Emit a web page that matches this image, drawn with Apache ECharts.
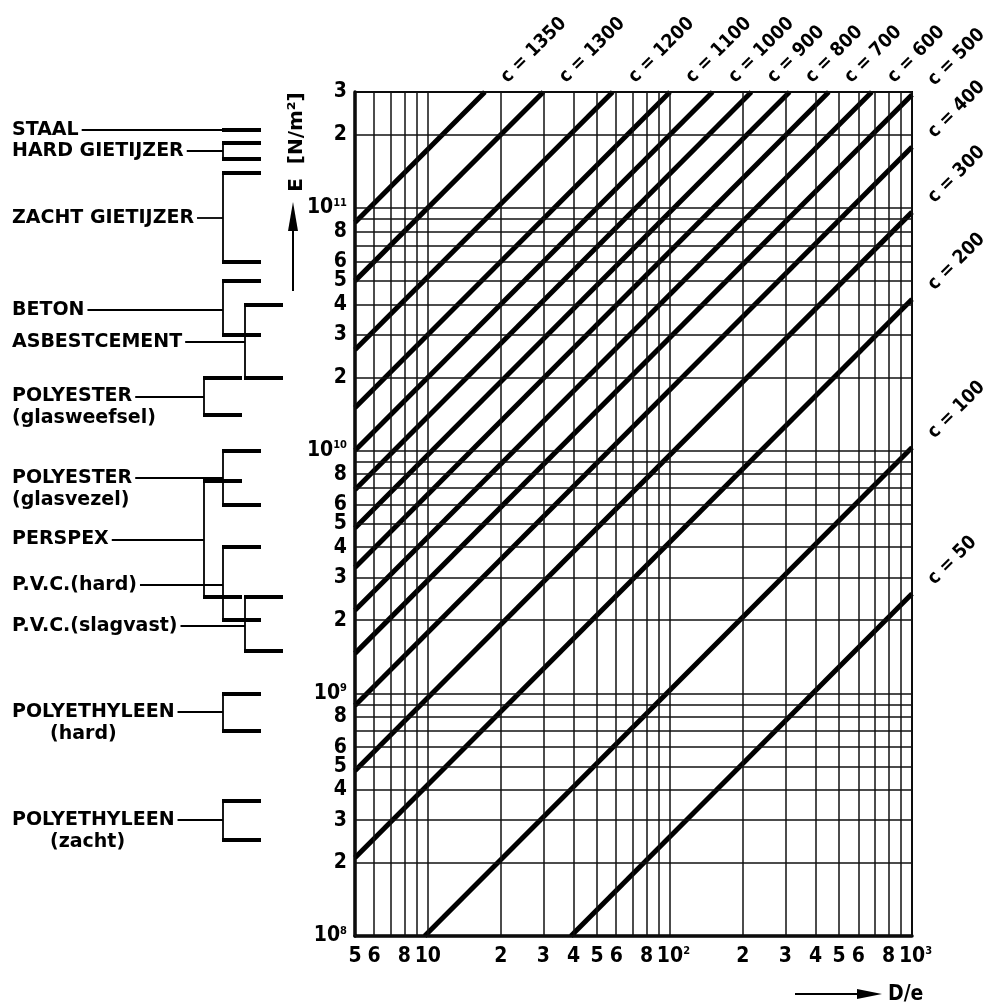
<!DOCTYPE html>
<html><head><meta charset="utf-8">
<script src="https://cdn.jsdelivr.net/npm/echarts@6/dist/echarts.min.js"></script>
<style>html,body{margin:0;padding:0;background:#fff}#c{width:987px;height:1008px}</style>
</head><body><div id="c"></div>
<script>
// ---------------- data ----------------
const cValues    = [1350, 1300, 1200, 1100, 1000, 900, 800, 700, 600, 500, 400, 300, 200, 100, 50];
const lineStartDe = [5, 5, 5, 5, 5, 5, 5, 5, 5, 5, 5, 5, 5, 9.7, 39];
const lineStartE  = [8.7e10, 5e10, 2.6e10, 1.5e10, 1e10, 6.9e9, 4.8e9, 3.3e9, 2.2e9, 1.46e9, 8.9e8, 4.8e8, 2.1e8, 1e8, 1e8];
const lineEndDe   = [17.2, 30, 58, 100, 150, 217, 312, 453, 682, 1000, 1000, 1000, 1000, 1000, 1000];
const lineEndE    = [3e11, 3e11, 3e11, 3e11, 3e11, 3e11, 3e11, 3e11, 3e11, 2.92e11, 1.78e11, 9.6e10, 4.2e10, 1.03e10, 2.57e9];

const xGridValues = [5,6,7,8,9,10,20,30,40,50,60,70,80,90,100,200,300,400,500,600,700,800,900,1000];
const xTickTexts  = ['5','6','','8','','10','2','3','4','5','6','','8','','{p|}10{s|2}','2','3','4','5','6','','8','','{p|}10{s|3}'];
const yGridValues = [1e8,2e8,3e8,4e8,5e8,6e8,7e8,8e8,9e8,1e9,2e9,3e9,4e9,5e9,6e9,7e9,8e9,9e9,
                     1e10,2e10,3e10,4e10,5e10,6e10,7e10,8e10,9e10,1e11,2e11,3e11];
const yTickTexts  = ['10{s|8}','2','3','4','5','6','','8','','10{s|9}','2','3','4','5','6','','8','',
                     '10{s|10}','2','3','4','5','6','','8','','10{s|11}','2','3'];

const materialNames  = ['STAAL','HARD GIETIJZER','ZACHT GIETIJZER','BETON','ASBESTCEMENT',
                        'POLYESTER\n(glasweefsel)','POLYESTER\n(glasvezel)','PERSPEX','P.V.C.(hard)',
                        'P.V.C.(slagvast)','POLYETHYLEEN\n(hard)','POLYETHYLEEN\n(zacht)'];
const materialLowE   = [2.1e11, 1.6e11, 6e10, 3e10, 2e10, 1.4e10, 6e9, 2.5e9, 2e9, 1.5e9, 7e8, 2.5e8];
const materialHighE  = [2.1e11, 1.85e11, 1.4e11, 5e10, 4e10, 2e10, 1e10, 7.5e9, 4e9, 2.5e9, 1e9, 3.6e8];
const materialLabelE = [2.1e11, 1.72e11, 9.1e10, 3.8e10, 2.8e10, 1.67e10, 7.7e9, 4.3e9, 2.8e9, 1.9e9, 8.4e8, 3e8];
const materialColumn = [1, 1, 1, 1, 2, 0, 1, 0, 1, 2, 1, 1];

// ---------------- layout / style ----------------
const TICK_FONT = '"DejaVu Sans Condensed", "Liberation Sans Narrow", "DejaVu Sans", sans-serif';
const TEXT_FONT = '"DejaVu Sans", sans-serif';
const MAT_SIZE = 19;
const COLUMN_X = [204, 223, 245];
const BAR_LEN = 38;
const TEXT_X = 12;

const measureCtx = document.createElement('canvas').getContext('2d');
function textWidth(s, size, fam, weight) { measureCtx.font = (weight || '') + ' ' + size + 'px ' + fam; return measureCtx.measureText(s).width; }

const supRich = {
  s: { fontSize: 11, fontFamily: TICK_FONT, fontWeight: 'bold', verticalAlign: 'top', color: '#000' },
  p: { width: 7 }
};

// grid lines + tick labels via markLine
const gridMarks = [];
xGridValues.forEach((v, i) => gridMarks.push({ xAxis: v, name: xTickTexts[i],
  label: { show: xTickTexts[i] !== '', position: 'start', distance: 10, align: 'center' } }));
yGridValues.forEach((v, i) => gridMarks.push({ yAxis: v, name: yTickTexts[i],
  label: { show: yTickTexts[i] !== '', position: 'start', distance: 8 } }));

const cLineSeries = cValues.map((c, i) => ({
  type: 'line', name: 'c = ' + c, xAxisIndex: 0, yAxisIndex: 0,
  data: [[lineStartDe[i], lineStartE[i]], [lineEndDe[i], lineEndE[i]]],
  symbol: 'none', silent: true, z: 4,
  lineStyle: { color: '#000', width: 5, cap: 'butt' }
}));

// brackets for materials
const thinSegs = [], thickSegs = [];
materialNames.forEach((name, i) => {
  const x = COLUMN_X[materialColumn[i]];
  const lo = materialLowE[i], hi = materialHighE[i], le = materialLabelE[i];
  if (lo !== hi) thinSegs.push({ coords: [[x, lo], [x, hi]] });
  thickSegs.push({ coords: [[x - 1, lo], [x + BAR_LEN, lo]] });
  if (lo !== hi) thickSegs.push({ coords: [[x - 1, hi], [x + BAR_LEN, hi]] });
  const start = TEXT_X + textWidth(name.split('\n')[0], MAT_SIZE, TEXT_FONT, 'bold') + 3;
  thinSegs.push({ coords: [[start, le], [x, le]] });
});

const matLabels = materialNames.map((n, i) => {
  const two = n.indexOf('\n') >= 0;
  return {
    value: [TEXT_X, materialLabelE[i]], name: n,
    label: two ? { verticalAlign: 'top', offset: [0, -11] } : {}
  };
});

const option = {
  animation: false,
  backgroundColor: '#fff',
  grid: [
    { left: 355, top: 92, width: 557, height: 844, show: true, borderColor: '#000', borderWidth: 2, backgroundColor: 'transparent' },
    { left: 0, top: 92, width: 300, height: 844, show: false }
  ],
  xAxis: [
    { type: 'log', logBase: 10, min: 5, max: 1000, gridIndex: 0,
      axisLine: { show: true, lineStyle: { color: '#000', width: 3.5 } },
      axisTick: { show: false }, axisLabel: { show: false }, splitLine: { show: false } },
    { type: 'value', min: 0, max: 300, gridIndex: 1, show: false }
  ],
  yAxis: [
    { type: 'log', logBase: 10, min: 1e8, max: 3e11, gridIndex: 0,
      axisLine: { show: true, lineStyle: { color: '#000', width: 3.5 } },
      axisTick: { show: false }, axisLabel: { show: false }, splitLine: { show: false } },
    { type: 'log', logBase: 10, min: 1e8, max: 3e11, gridIndex: 1, show: false }
  ],
  graphic: [
    { type: 'text', x: 297, y: 142, rotation: Math.PI / 2,
      style: { text: 'E  [N/m²]', font: 'bold 20px ' + TEXT_FONT, fill: '#000', align: 'center', verticalAlign: 'middle' } },
    { type: 'line', shape: { x1: 293, y1: 291, x2: 293, y2: 226 }, style: { stroke: '#000', lineWidth: 2 } },
    { type: 'polygon', shape: { points: [[293, 202], [288, 231], [298, 231]] }, style: { fill: '#000' } },
    { type: 'line', shape: { x1: 795, y1: 994, x2: 862, y2: 994 }, style: { stroke: '#000', lineWidth: 2 } },
    { type: 'polygon', shape: { points: [[882, 994], [857, 989], [857, 999]] }, style: { fill: '#000' } },
    { type: 'text', x: 888, y: 995,
      style: { text: 'D/e', font: 'bold 21px ' + TICK_FONT, fill: '#000', align: 'left', verticalAlign: 'middle' } }
  ],
  series: [
    { type: 'scatter', name: 'grid', xAxisIndex: 0, yAxisIndex: 0, data: [], silent: true, z: 2,
      markLine: {
        silent: true, symbol: ['none', 'none'], animation: false,
        lineStyle: { color: '#111', width: 1.5, type: 'solid' },
        label: { formatter: p => p.name, fontFamily: TICK_FONT, fontWeight: 'bold', fontSize: 21, color: '#000', rich: supRich },
        emphasis: { disabled: true },
        data: gridMarks
      } },
    ...cLineSeries,
    { type: 'scatter', name: 'cLabels', xAxisIndex: 0, yAxisIndex: 0, symbolSize: 0, silent: true, z: 5,
      itemStyle: { opacity: 1 },
      data: cValues.map((c, i) => ({ value: [lineEndDe[i], lineEndE[i]], name: 'c = ' + c })),
      label: { show: true, position: 'right', distance: 0, rotate: 45, offset: [22, 5], formatter: '{b}',
               fontFamily: TICK_FONT, fontWeight: 'bold', fontSize: 19, color: '#000', opacity: 1 } },
    { type: 'lines', coordinateSystem: 'cartesian2d', xAxisIndex: 1, yAxisIndex: 1, silent: true, z: 3,
      lineStyle: { color: '#000', width: 1.8, opacity: 1, curveness: 0 }, data: thinSegs },
    { type: 'lines', coordinateSystem: 'cartesian2d', xAxisIndex: 1, yAxisIndex: 1, silent: true, z: 3,
      lineStyle: { color: '#000', width: 3.8, opacity: 1, curveness: 0 }, data: thickSegs },
    { type: 'scatter', name: 'materials', xAxisIndex: 1, yAxisIndex: 1, symbolSize: 0, silent: true, z: 5,
      itemStyle: { opacity: 1 },
      data: matLabels,
      label: { show: true, position: 'right', distance: 0, lineHeight: 22, opacity: 1,
               formatter: p => {
                 const L = p.name.split('\n');
                 if (L.length === 1) return L[0];
                 return L[0] + '\n' + (L[0] === 'POLYETHYLEEN' ? '{ind|' + L[1] + '}' : L[1]);
               },
               fontFamily: TEXT_FONT, fontWeight: 'bold', fontSize: MAT_SIZE, color: '#000',
               rich: { ind: { padding: [0, 0, 0, 38], fontFamily: TEXT_FONT, fontWeight: 'bold', fontSize: MAT_SIZE, lineHeight: 22 } } } }
  ]
};

const chart = echarts.init(document.getElementById('c'), null, { renderer: 'canvas', width: 987, height: 1008 });
chart.setOption(option);
</script>
</body></html>
